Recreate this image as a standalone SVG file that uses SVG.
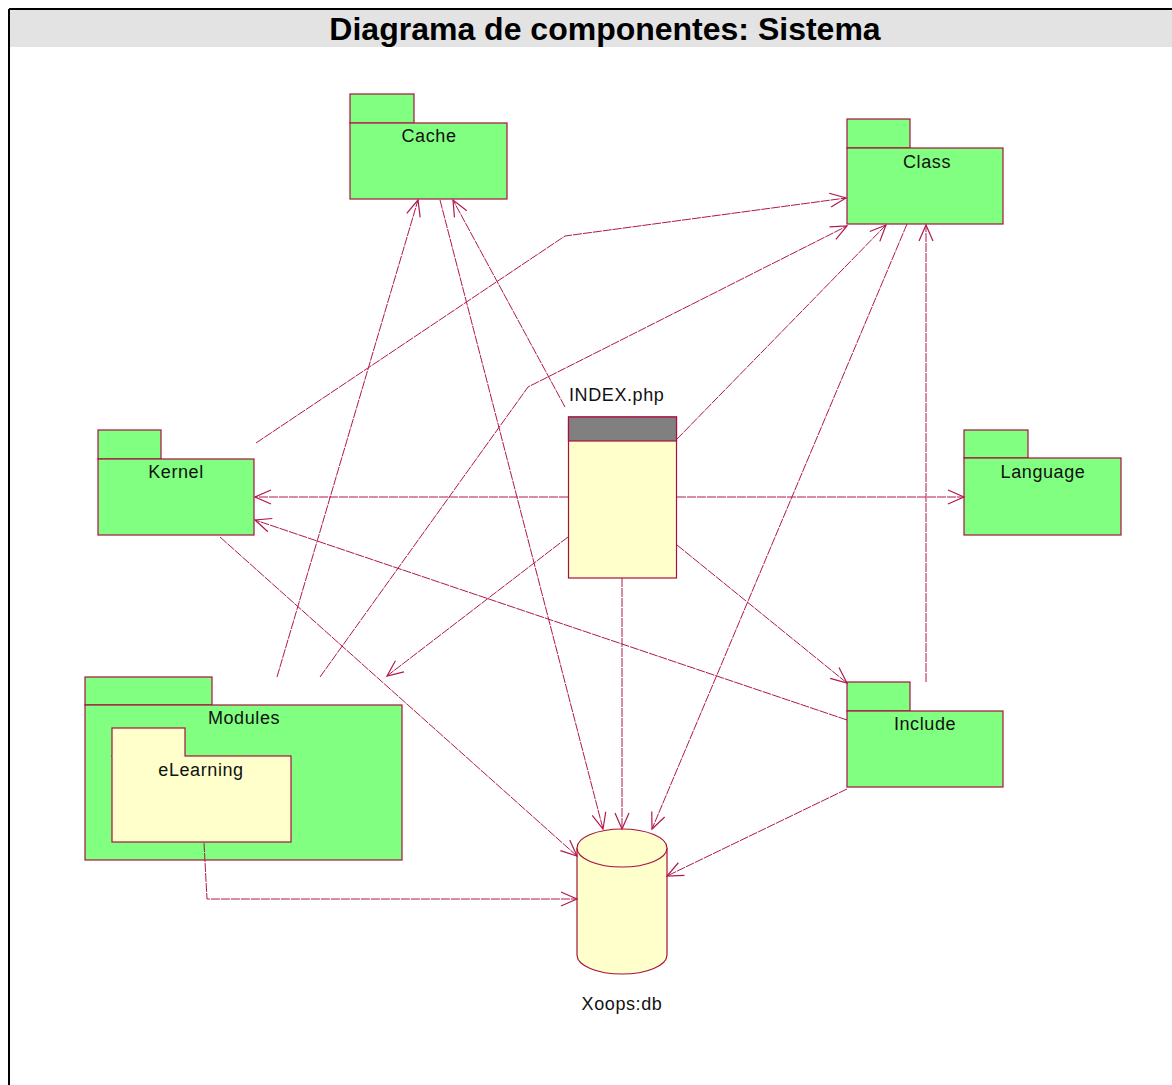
<svg xmlns="http://www.w3.org/2000/svg" width="1172" height="1085" viewBox="0 0 1172 1085">
  <style>
    .pkg { fill: #80FF80; stroke: #A8103F; stroke-width: 1.2; }
    .pkgy { fill: #FFFFCC; stroke: #A8103F; stroke-width: 1.2; }
    .sep { stroke: #C06080; stroke-width: 0.8; opacity: 0.6; }
    .lbl { font-family: "Liberation Sans", Arial, sans-serif; font-size: 18px; letter-spacing: 0.6px; fill: #111; }
    .mid { text-anchor: middle; }
    .dep { fill: none; stroke: #B0184C; stroke-width: 1; stroke-dasharray: 9 1; marker-end: url(#open); }
  </style>
  <defs>
    <marker id="open" viewBox="-18 -9 20 18" markerWidth="20" markerHeight="18" refX="0" refY="0" orient="auto" markerUnits="userSpaceOnUse">
      <path d="M-16,-7 L0,0 L-16,7" fill="none" stroke="#B0184C" stroke-width="1.2" stroke-dasharray="none"/>
    </marker>
  </defs>

  <rect x="0" y="0" width="1172" height="1085" fill="#FFFFFF"/>

  <!-- frame and title bar -->
  <rect x="10" y="10" width="1162" height="37" fill="#E3E3E3"/>
  <line x1="9" y1="9" x2="1172" y2="9" stroke="#000" stroke-width="2"/>
  <line x1="9" y1="9" x2="9" y2="1085" stroke="#000" stroke-width="2"/>
  <text x="605" y="40" class="mid" font-family="Liberation Sans, Arial, sans-serif" font-size="32" font-weight="bold" fill="#000">Diagrama de componentes: Sistema</text>

  <!-- Cache package -->
  <g id="cache">
    <rect class="pkg" x="350" y="94" width="64" height="29"/>
    <rect class="pkg" x="350" y="123" width="157" height="76"/>
    <line class="sep" x1="350" y1="123" x2="414" y2="123"/>
    <text class="lbl mid" x="429" y="142">Cache</text>
  </g>

  <!-- Class package -->
  <g id="class">
    <rect class="pkg" x="847" y="119" width="63" height="29"/>
    <rect class="pkg" x="847" y="148" width="156" height="76"/>
    <text class="lbl mid" x="927" y="168">Class</text>
  </g>

  <!-- Kernel package -->
  <g id="kernel">
    <rect class="pkg" x="98" y="430" width="63" height="29"/>
    <rect class="pkg" x="98" y="459" width="156" height="76"/>
    <text class="lbl mid" x="176" y="478">Kernel</text>
  </g>

  <!-- Language package -->
  <g id="language">
    <rect class="pkg" x="964" y="430" width="64" height="28"/>
    <rect class="pkg" x="964" y="458" width="157" height="77"/>
    <text class="lbl mid" x="1043" y="478">Language</text>
  </g>

  <!-- INDEX.php component -->
  <g id="index">
    <text class="lbl" x="569" y="401">INDEX.php</text>
    <rect x="568.5" y="417" width="108" height="161" fill="#FFFFCC" stroke="#A8103F" stroke-width="1.2"/>
    <rect x="568.5" y="417" width="108" height="24" fill="#808080" stroke="#A8103F" stroke-width="1.2"/>
  </g>

  <!-- Modules package with nested eLearning -->
  <g id="modules">
    <rect class="pkg" x="85" y="677" width="127" height="28"/>
    <rect class="pkg" x="85" y="705" width="317" height="155"/>
    <text class="lbl mid" x="244" y="724">Modules</text>
    <g id="elearning">
      <rect class="pkgy" x="112" y="728" width="73" height="28"/>
      <rect class="pkgy" x="112" y="756" width="179" height="86"/>
      <rect x="112.6" y="755" width="71.8" height="2" fill="#FFFFCC"/>
      <text class="lbl mid" x="201" y="776">eLearning</text>
    </g>
  </g>

  <!-- Include package -->
  <g id="include">
    <rect class="pkg" x="847" y="682" width="63" height="29"/>
    <rect class="pkg" x="847" y="711" width="156" height="76"/>
    <text class="lbl mid" x="925" y="730">Include</text>
  </g>

  <!-- Xoops:db database -->
  <g id="xoopsdb">
    <path d="M577,848 L577,955 A45,19 0 0 0 667,955 L667,848" fill="#FFFFCC" stroke="#A8103F" stroke-width="1.2"/>
    <ellipse cx="622" cy="848" rx="45" ry="19" fill="#FFFFCC" stroke="#A8103F" stroke-width="1.2"/>
    <text class="lbl mid" x="622" y="1010">Xoops:db</text>
  </g>

  <!-- dependency connectors -->
  <g id="connectors">
    <polyline class="dep" points="256,443 565,236 846,198"/>
    <polyline class="dep" points="320,677 528,387 847,226"/>
    <line class="dep" x1="677" y1="439" x2="886" y2="225"/>
    <line class="dep" x1="926" y1="682" x2="926" y2="225"/>
    <line class="dep" x1="907" y1="224" x2="652" y2="829"/>
    <line class="dep" x1="440" y1="200" x2="603" y2="829"/>
    <line class="dep" x1="622" y1="578" x2="622" y2="829"/>
    <line class="dep" x1="220" y1="537" x2="577" y2="856"/>
    <polyline class="dep" points="204,843 207,899 577,899"/>
    <line class="dep" x1="847" y1="789" x2="667" y2="876"/>
    <line class="dep" x1="565" y1="407" x2="453" y2="200"/>
    <line class="dep" x1="277" y1="677" x2="418" y2="200"/>
    <line class="dep" x1="568" y1="497" x2="255" y2="497"/>
    <line class="dep" x1="847" y1="720" x2="255" y2="520"/>
    <line class="dep" x1="677" y1="497" x2="964" y2="497"/>
    <line class="dep" x1="568" y1="537" x2="387" y2="676"/>
    <line class="dep" x1="677" y1="545" x2="847" y2="683"/>
  </g>
</svg>
